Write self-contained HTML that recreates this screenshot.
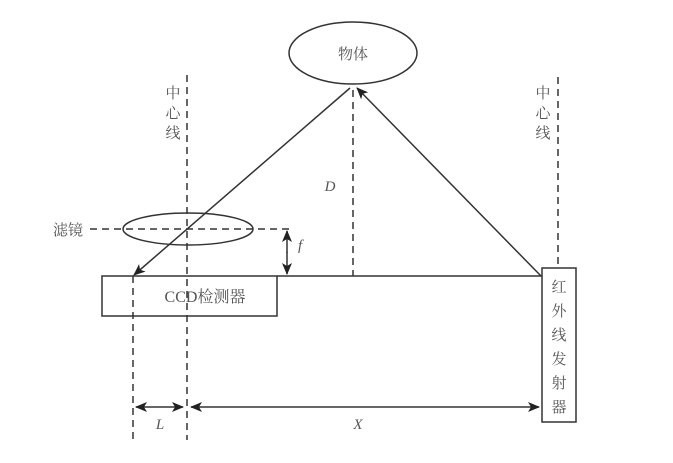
<!DOCTYPE html>
<html><head><meta charset="utf-8"><style>
html,body{margin:0;padding:0;background:#fff;}
text{font-family:"Liberation Serif","Noto Serif CJK SC",serif;fill:#555;}
</style></head><body>
<svg width="673" height="458" viewBox="0 0 673 458" xmlns="http://www.w3.org/2000/svg">
<defs>
<marker id="a" markerWidth="12" markerHeight="10" refX="11" refY="5" orient="auto" markerUnits="userSpaceOnUse">
<path d="M0,0 L12,5 L0,10 L3,5 Z" fill="#222"/></marker>
</defs>
<g stroke="#333" fill="none" stroke-width="1.5">
<ellipse cx="353" cy="53" rx="64" ry="31"/>
<line x1="353" y1="90" x2="353" y2="276" stroke-dasharray="7,5"/>
<line x1="277" y1="276" x2="542" y2="276"/>
<rect x="542" y="268" width="34" height="154"/>
<line x1="558" y1="77" x2="558" y2="268" stroke-dasharray="7,5"/>
<line x1="541" y1="276" x2="357" y2="88" marker-end="url(#a)"/>
<line x1="350" y1="88" x2="134" y2="275" marker-end="url(#a)"/>
<rect x="102" y="276" width="175" height="40"/>
<ellipse cx="188" cy="229" rx="65" ry="16"/>
<line x1="90" y1="229" x2="292" y2="229" stroke-dasharray="7,5"/>
<line x1="287" y1="253" x2="287" y2="231" marker-end="url(#a)"/>
<line x1="287" y1="252" x2="287" y2="274" marker-end="url(#a)"/>
<line x1="187" y1="75" x2="187" y2="440" stroke-dasharray="7,5"/>
<line x1="133" y1="276" x2="133" y2="440" stroke-dasharray="7,5"/>
<line x1="160" y1="407" x2="136" y2="407" marker-end="url(#a)"/>
<line x1="160" y1="407" x2="183" y2="407" marker-end="url(#a)"/>
<line x1="360" y1="407" x2="191" y2="407" marker-end="url(#a)"/>
<line x1="360" y1="407" x2="539" y2="407" marker-end="url(#a)"/>
</g>
<text x="353" y="59" font-size="15" text-anchor="middle">物体</text>
<text x="205" y="302" font-size="16" text-anchor="middle">CCD检测器</text>
<text x="68" y="235" font-size="15" text-anchor="middle">滤镜</text>
<text x="298" y="250" font-size="15" font-style="italic">f</text>
<text x="330" y="191" font-size="15" font-style="italic" text-anchor="middle">D</text>
<text x="160" y="429" font-size="15" font-style="italic" text-anchor="middle">L</text>
<text x="358" y="429" font-size="15" font-style="italic" text-anchor="middle">X</text>
<g font-size="15" text-anchor="middle">
<text x="173" y="98">中</text><text x="173" y="118">心</text><text x="173" y="138">线</text>
<text x="543" y="98">中</text><text x="543" y="118">心</text><text x="543" y="138">线</text>
<text x="559" y="292">红</text><text x="559" y="316">外</text><text x="559" y="340">线</text>
<text x="559" y="364">发</text><text x="559" y="388">射</text><text x="559" y="412">器</text>
</g>
</svg>
</body></html>
